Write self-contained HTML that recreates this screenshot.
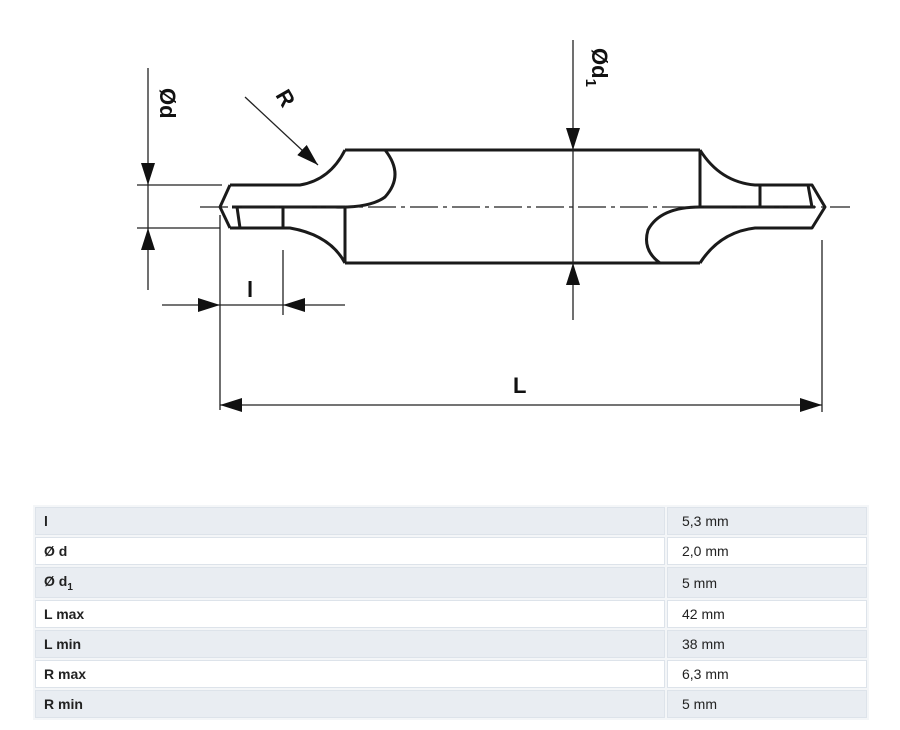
<!DOCTYPE html>
<html><head><style>
body{margin:0;width:900px;height:730px;background:#fff;position:relative;font-family:"Liberation Sans",Arial,sans-serif;overflow:hidden}
svg{position:absolute;left:0;top:0}
.t{position:absolute;left:33px;top:505px;width:836px;border-collapse:separate;border-spacing:2px;font-size:14px;color:#222;background:#f4f6f8}
.t td{height:26px;padding:0 8px;border:1px solid #dde3ea}
.t tr.g td{background:#e9edf2}
.t tr.w td{background:#fff}
.t td:first-child{font-weight:bold;width:612px}
.t td+td{font-weight:normal;padding-left:14px}
</style></head><body>
<svg width="900" height="480" viewBox="0 0 900 480">
<defs>
<marker id="b" markerWidth="22" markerHeight="14" refX="22" refY="7" orient="auto" markerUnits="userSpaceOnUse"><path d="M0,0L22,7L0,14z" fill="#111"/></marker></defs>
<g fill="none" stroke="#1a1a1a" stroke-width="3" stroke-linejoin="round">
<path d="M345,150 H700 M345,263 H700"/>
<path d="M230,185 H300 Q330,180 345,150 M230,228 H290 Q330,235 345,263 M345,207 V263"/>
<path d="M230,185 L220,207 L230,228 M232,207 H345 M283,207 V228 M237,207 L240,228"/>
<path d="M385,150 Q405,175 385,197 Q370,208 335,207"/>
<path d="M700,150 V207 M700,150 Q720,182 755,185 H812 L825,207 L812,228 H755 Q720,232 700,263"/>
<path d="M760,185 V207 M700,207 H815 M808,185 L812,207"/>
<path d="M700,207 Q660,207 648,230 Q642,250 660,263"/>
</g>
<g stroke="#222" stroke-width="1.3" fill="none">
<path d="M200,207 H850" stroke-dasharray="28,5,4,5"/>
<path d="M148,68 V185" marker-end="url(#b)"/><path d="M148,290 V228" marker-end="url(#b)"/><path d="M148,185 V228"/>
<path d="M137,185 H222 M137,228 H220"/>
<path d="M245,97 L318,165" marker-end="url(#b)"/>
<path d="M573,40 V150" marker-end="url(#b)"/><path d="M573,320 V263" marker-end="url(#b)"/><path d="M573,150 V263"/>
<path d="M220,215 V410 M283,250 V315 M822,240 V412"/>
<path d="M162,305 H220" marker-end="url(#b)"/><path d="M345,305 H283" marker-end="url(#b)"/><path d="M220,305 H283"/>
<path d="M521,405 H220" marker-end="url(#b)"/><path d="M521,405 H822" marker-end="url(#b)"/>
</g>
<g font-family="Liberation Sans,Arial,sans-serif" font-weight="bold" font-size="22" fill="#111">
<text transform="translate(160,88) rotate(90)">Ød</text>
<text transform="translate(275,95) rotate(60)">R</text>
<text transform="translate(592,48) rotate(90)">Ød<tspan font-size="15" dy="6">1</tspan></text>
<text x="247" y="297">l</text>
<text x="513" y="393">L</text>
</g>
</svg>
<table class="t">
<tr class="g"><td>l</td><td>5,3 mm</td></tr>
<tr class="w"><td>Ø d</td><td>2,0 mm</td></tr>
<tr class="g"><td style="height:29px">Ø d<sub style="font-size:10px">1</sub></td><td>5 mm</td></tr>
<tr class="w"><td>L max</td><td>42 mm</td></tr>
<tr class="g"><td>L min</td><td>38 mm</td></tr>
<tr class="w"><td>R max</td><td>6,3 mm</td></tr>
<tr class="g"><td>R min</td><td>5 mm</td></tr>
</table>
</body></html>
